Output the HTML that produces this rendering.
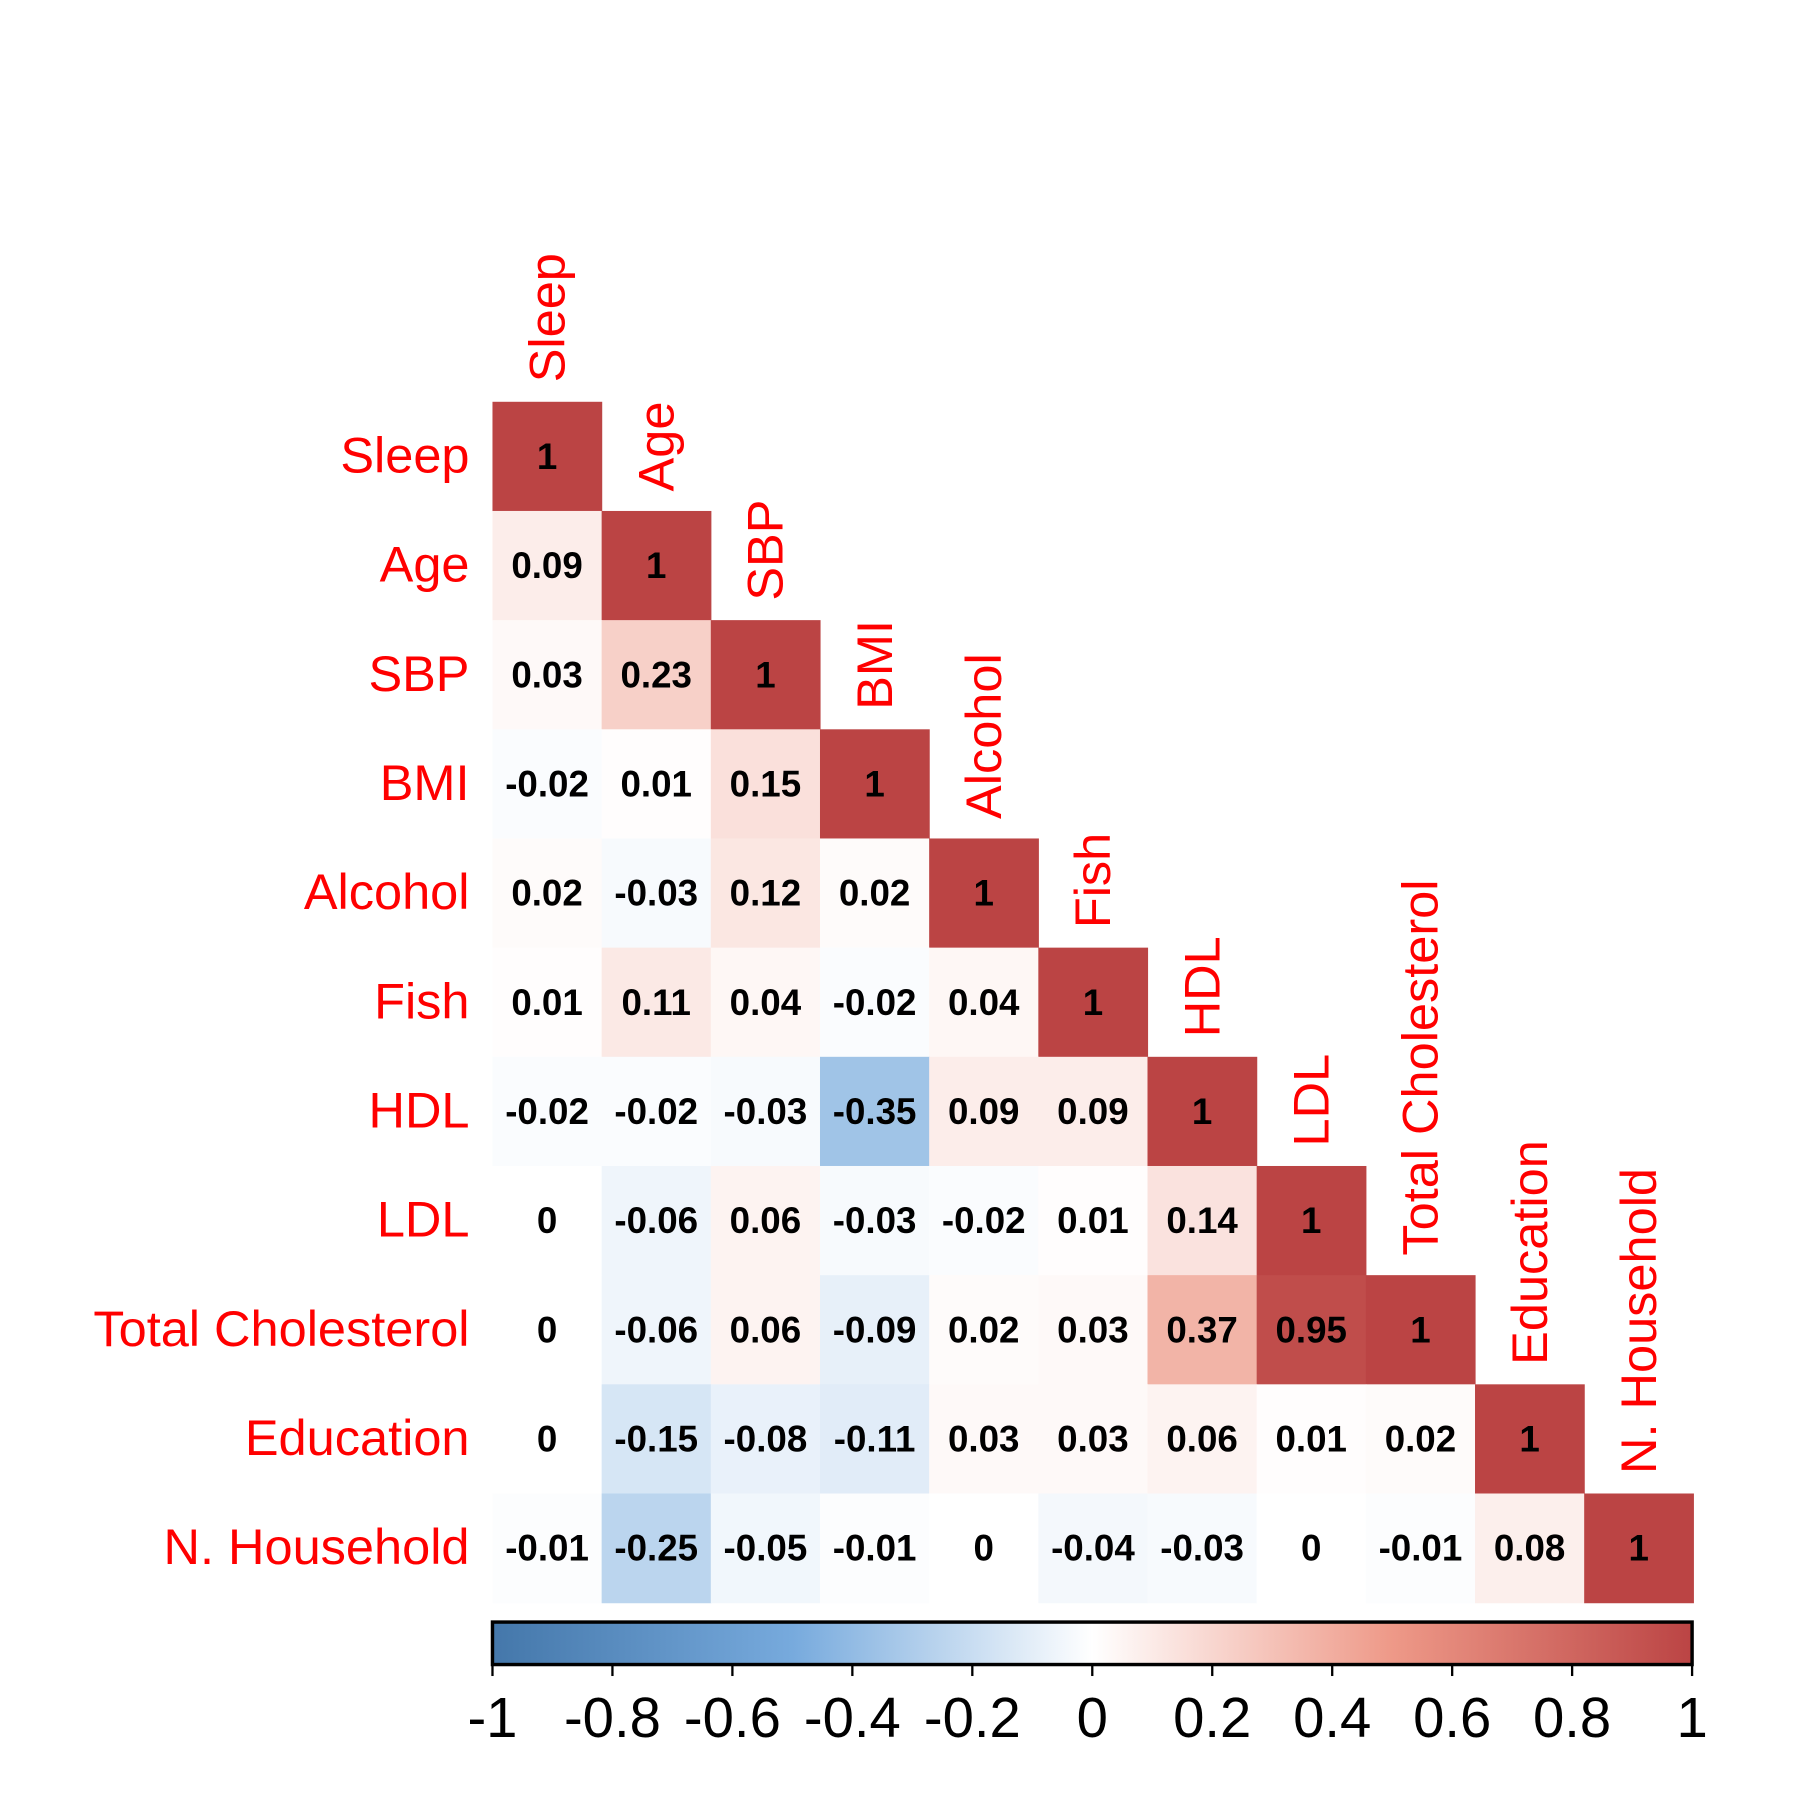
<!DOCTYPE html>
<html><head><meta charset="utf-8"><style>html,body{margin:0;padding:0;background:#fff}svg{display:block}</style></head>
<body>
<svg id="chart" width="1800" height="1800" viewBox="0 0 1568 1568" xmlns="http://www.w3.org/2000/svg" font-family="Liberation Sans, sans-serif">
<defs>
<linearGradient id="cg" x1="0" x2="1" y1="0" y2="0">
<stop offset="0" stop-color="#4477AA"/><stop offset="0.25" stop-color="#77AADD"/><stop offset="0.5" stop-color="#FFFFFF"/><stop offset="0.75" stop-color="#EE9988"/><stop offset="1" stop-color="#BB4444"/>
</linearGradient>
</defs>
<g id="cells"></g>
<g id="labels"></g>
<g id="legend"></g>
</svg>
<script>
const variables = ["Sleep","Age","SBP","BMI","Alcohol","Fish","HDL","LDL","Total Cholesterol","Education","N. Household"];
const lowerValues = [
 [],
 [0.09],
 [0.03,0.23],
 [-0.02,0.01,0.15],
 [0.02,-0.03,0.12,0.02],
 [0.01,0.11,0.04,-0.02,0.04],
 [-0.02,-0.02,-0.03,-0.35,0.09,0.09],
 [0,-0.06,0.06,-0.03,-0.02,0.01,0.14],
 [0,-0.06,0.06,-0.09,0.02,0.03,0.37,0.95],
 [0,-0.15,-0.08,-0.11,0.03,0.03,0.06,0.01,0.02],
 [-0.01,-0.25,-0.05,-0.01,0,-0.04,-0.03,0,-0.01,0.08]
];
const tickValues = [-1,-0.8,-0.6,-0.4,-0.2,0,0.2,0.4,0.6,0.8,1];
const tickLabels = ["-1","-0.8","-0.6","-0.4","-0.2","0","0.2","0.4","0.6","0.8","1"];

const NS="http://www.w3.org/2000/svg";
const X0=429, Y0=350, CS=95.1;
const xPos=i=>X0+i*CS, yPos=i=>Y0+i*CS;
const BX0=429, BX1=1474, BY=1413, BH=37;
const legX=v=>BX0+(v+1)/2*(BX1-BX0);
const stops=[[-1,[0x44,0x77,0xAA]],[-0.5,[0x77,0xAA,0xDD]],[0,[255,255,255]],[0.5,[0xEE,0x99,0x88]],[1,[0xBB,0x44,0x44]]];
function color(v){for(let k=0;k<stops.length-1;k++){const [a,ca]=stops[k],[b,cb]=stops[k+1];if(v>=a&&v<=b){const t=(v-a)/(b-a);return "rgb("+ca.map((c,j)=>Math.round(c+(cb[j]-c)*t)).join(",")+")";}}return "#fff";}
function mk(tag,attrs,parent){const e=document.createElementNS(NS,tag);for(const k in attrs)e.setAttribute(k,attrs[k]);parent.appendChild(e);return e;}
const gc=document.getElementById('cells'), gl=document.getElementById('labels'), gg=document.getElementById('legend');
function fmt(v){return String(v);}
for(let i=0;i<variables.length;i++){
 for(let j=0;j<=i;j++){
  const v = i===j?1:lowerValues[i][j];
  const r=mk('rect',{x:xPos(j),y:yPos(i),width:CS+0.5,height:CS+0.5,fill:color(v)},gc);
  
  
  const t=mk('text',{x:xPos(j)+CS/2,y:yPos(i)+CS/2+11,'text-anchor':'middle','font-size':32,'font-weight':'bold',fill:'#000'},gc);
  t.textContent=fmt(v);
  
  
 }
 const rl=mk('text',{x:409,y:yPos(i)+CS/2+14,'text-anchor':'end','font-size':44,fill:'#FF0000'},gl);
 rl.textContent=variables[i];
 
 
 const cx=xPos(i)+CS/2+15, cy=yPos(i)-17;
 const cl=mk('text',{x:cx,y:cy,'text-anchor':'start','font-size':44,fill:'#FF0000',transform:'rotate(-90 '+cx+' '+cy+')'},gl);
 cl.textContent=variables[i];
 
 
}
const bar=mk('rect',{x:BX0,y:BY,width:BX1-BX0,height:BH,fill:'url(#cg)',stroke:'#000','stroke-width':3},gg);


tickValues.forEach((v,k)=>{
 const x=legX(v);
 const tk=mk('line',{x1:x,x2:x,y1:BY+BH,y2:BY+BH+10,stroke:'#000','stroke-width':2},gg);
 
 
 const tl=mk('text',{x:x,y:1513,'text-anchor':'middle','font-size':49,fill:'#000'},gg);
 tl.textContent=tickLabels[k];
 
 
});
</script>
</body></html>
